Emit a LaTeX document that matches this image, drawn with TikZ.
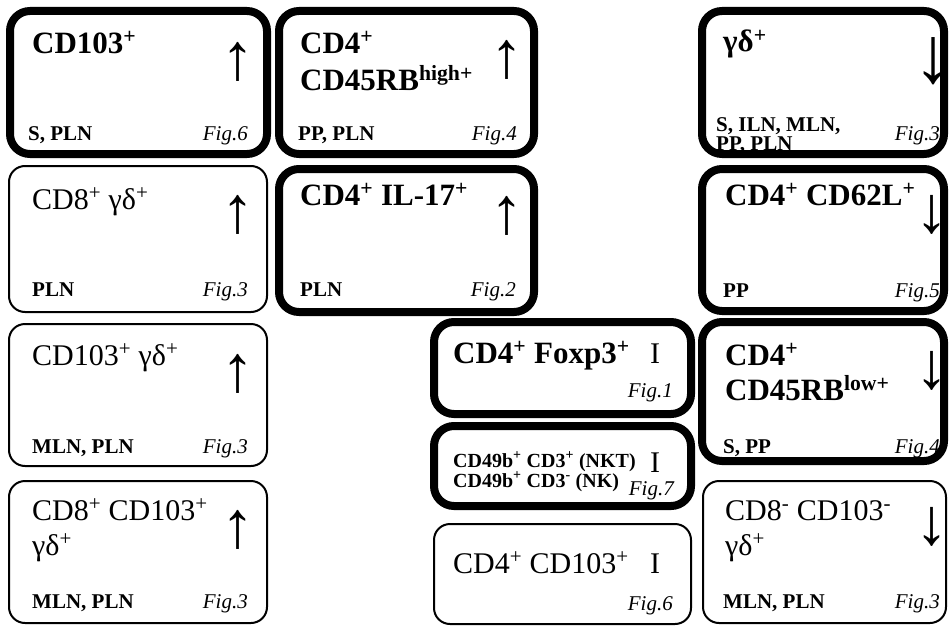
\documentclass[tikz,border=0pt]{standalone}
\usepackage{fontspec}
\setmainfont{Liberation Serif}
\usetikzlibrary{positioning}

\tikzset{
  cellbox/.style={draw, rounded corners=16pt, line width=2pt, inner sep=0pt},
  keybox/.style={cellbox, rounded corners=20pt, line width=8pt},
  cellname/.style={inner sep=0pt, anchor=base west, align=left,
    font=\fontsize{30}{35}\selectfont},
  keyname/.style={cellname, font=\fontsize{31}{35}\selectfont\bfseries},
  organ/.style={inner sep=0pt, anchor=base west, align=left,
    font=\fontsize{21}{19}\selectfont\bfseries},
  figref/.style={inner sep=0pt, anchor=base east,
    font=\fontsize{21}{21}\selectfont\itshape},
  trend/.style={inner sep=0pt, font=\fontsize{66}{66}\selectfont},
  flat/.style={inner sep=0pt, anchor=base, font=\fontsize{30}{30}\selectfont},
}
\newcommand{\up}[1]{\textsuperscript{#1}}

\begin{document}
\begin{tikzpicture}[x=1pt,y=-1pt]

    \useasboundingbox (0,0) rectangle (952,626);

    % Left column: increased
    \node[keybox, minimum width=257pt, minimum height=143pt] (cd103) at (138.5,82.5) {};
    \node[keyname] (cd103t) at (32,53) {CD103\up{+}};
    \node[trend] (cd103a) at (238,62) {↑};
    \node[organ] (cd103o) at (28,140) {S, PLN};
    \node[figref] (cd103f) at (248,140) {Fig.6};

    \node[cellbox, minimum width=258pt, minimum height=146pt] (cd8gd) at (138,239) {};
    \node[cellname] (cd8gdt) at (32,209) {CD8\up{+} γδ\up{+}};
    \node[trend] (cd8gda) at (238,215) {↑};
    \node[organ] (cd8gdo) at (32,296) {PLN};
    \node[figref] (cd8gdf) at (248,296) {Fig.3};

    \node[cellbox, minimum width=258pt, minimum height=142pt] (cd103gd) at (138,395) {};
    \node[cellname] (cd103gdt) at (32,365) {CD103\up{+} γδ\up{+}};
    \node[trend] (cd103gda) at (238,374) {↑};
    \node[organ] (cd103gdo) at (32,453) {MLN, PLN};
    \node[figref] (cd103gdf) at (248,453) {Fig.3};

    \node[cellbox, minimum width=258pt, minimum height=142pt] (cd8cd103) at (138,552) {};
    \node[cellname] (cd8cd103t) at (32,555) {CD8\up{+} CD103\up{+}\\γδ\up{+}};
    \node[trend] (cd8cd103a) at (238,530) {↑};
    \node[organ] (cd8cd103o) at (32,608) {MLN, PLN};
    \node[figref] (cd8cd103f) at (248,608) {Fig.3};

    % Second column: increased
    \node[keybox, minimum width=255pt, minimum height=143pt] (cd45high) at (406.5,82.5) {};
    \node[keyname, font=\fontsize{31}{37}\selectfont\bfseries] (cd45hight) at (300,90) {CD4\up{+}\\CD45RB\up{high+}};
    \node[trend] (cd45higha) at (507,60) {↑};
    \node[organ] (cd45higho) at (298,140) {PP, PLN};
    \node[figref] (cd45highf) at (517,140) {Fig.4};

    \node[keybox, minimum width=255pt, minimum height=143pt] (il17) at (406.5,240.5) {};
    \node[keyname] (il17t) at (300,205) {CD4\up{+} IL-17\up{+}};
    \node[trend] (il17a) at (507,216) {↑};
    \node[organ] (il17o) at (300,296) {PLN};
    \node[figref] (il17f) at (516,296) {Fig.2};

    % Middle: unchanged
    \node[keybox, minimum width=257pt, minimum height=92pt] (foxp3) at (562.5,368) {};
    \node[keyname] (foxp3t) at (453,363) {CD4\up{+} Foxp3\up{+}};
    \node[flat] (foxp3a) at (655,363) {I};
    \node[figref] (foxp3f) at (673,397) {Fig.1};

    \node[keybox, minimum width=257pt, minimum height=80pt] (nkt) at (562.5,466) {};
    \node[organ, font=\fontsize{20}{20}\selectfont\bfseries] (nktt) at (453,487)
      {CD49b\up{+} CD3\up{+} (NKT)\\CD49b\up{+} CD3\up{-} (NK)};
    \node[flat] (nkta) at (655,472) {I};
    \node[figref] (nktf) at (674,495) {Fig.7};

    \node[cellbox, minimum width=257pt, minimum height=100pt] (cd4cd103) at (562.5,574) {};
    \node[cellname] (cd4cd103t) at (453,573) {CD4\up{+} CD103\up{+}};
    \node[flat] (cd4cd103a) at (655,573) {I};
    \node[figref] (cd4cd103f) at (673,610) {Fig.6};

    % Right column: decreased
    \node[keybox, minimum width=242pt, minimum height=143pt] (gd) at (823,82.5) {};
    \node[keyname] (gdt) at (723,52) {γδ\up{+}};
    \node[trend, font=\fontsize{80}{80}\selectfont] (gda) at (933,61) {↓};
    \node[organ] (gdo) at (716,150) {S, ILN, MLN,\\PP, PLN};
    \node[figref] (gdf) at (940,140) {Fig.3};

    \node[keybox, minimum width=242pt, minimum height=142pt] (cd62l) at (823,240) {};
    \node[keyname] (cd62lt) at (725,205) {CD4\up{+} CD62L\up{+}};
    \node[trend] (cd62la) at (932,215) {↓};
    \node[organ] (cd62lo) at (723,297) {PP};
    \node[figref] (cd62lf) at (940,297) {Fig.5};

    \node[keybox, minimum width=242pt, minimum height=139pt] (cd45low) at (823,391.5) {};
    \node[keyname] (cd45lowt) at (725,400) {CD4\up{+}\\CD45RB\up{low+}};
    \node[trend] (cd45lowa) at (932,371) {↓};
    \node[organ] (cd45lowo) at (723,453) {S, PP};
    \node[figref] (cd45lowf) at (940,453) {Fig.4};

    \node[cellbox, minimum width=243pt, minimum height=142pt] (cd8neg) at (824.5,552) {};
    \node[cellname] (cd8negt) at (725,555) {CD8\up{-} CD103\up{-}\\γδ\up{+}};
    \node[trend] (cd8nega) at (932,527) {↓};
    \node[organ] (cd8nego) at (723,608) {MLN, PLN};
    \node[figref] (cd8negf) at (940,608) {Fig.3};

\end{tikzpicture}
\end{document}
